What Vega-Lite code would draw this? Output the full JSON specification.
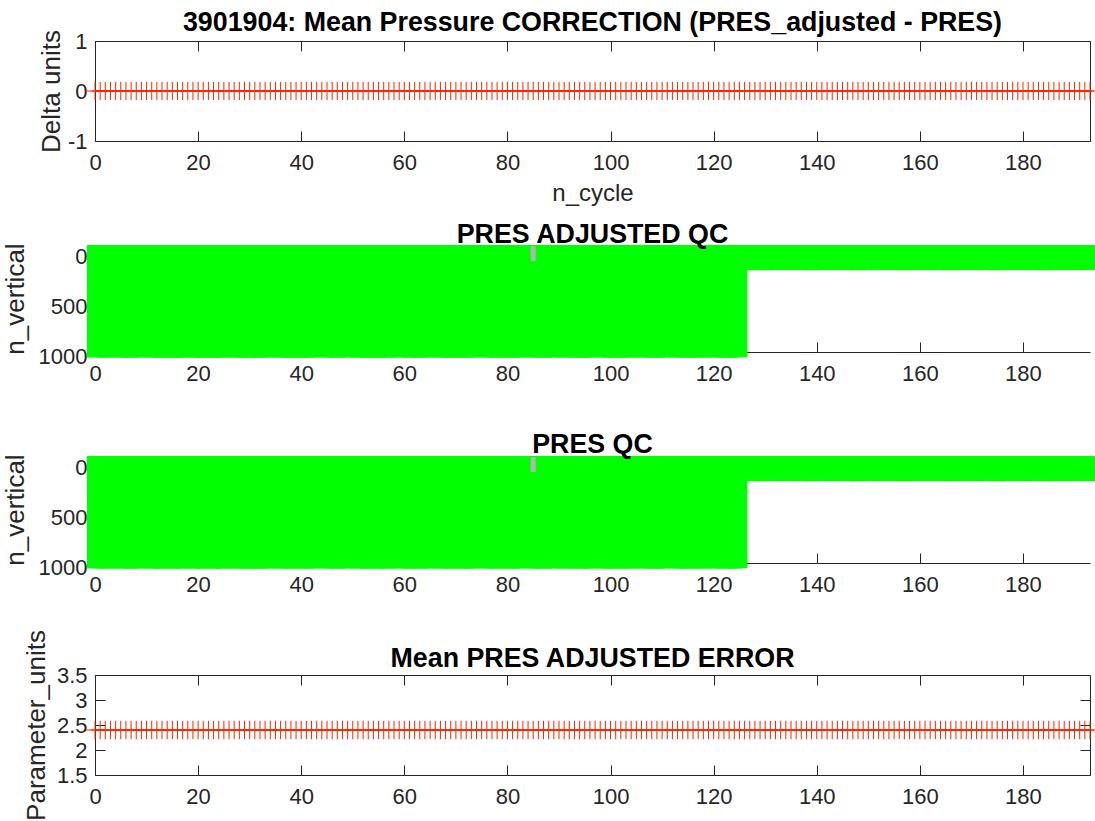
{
"$schema": "https://vega.github.io/schema/vega-lite/v6.json",
"background": "white",
"padding": {"left": 2, "top": 9, "right": 0, "bottom": 0},
"bounds": "flush",
"spacing": 104,
"datasets": {
"qc": [{"cycle": 85, "level_min": 1, "level_max": 90}],
"profiles": [
{"cycle":0,"correction":0,"adj_error":2.4,"n_levels":985},{"cycle":1,"correction":0,"adj_error":2.4,"n_levels":983},{"cycle":2,"correction":0,"adj_error":2.4,"n_levels":986},{"cycle":3,"correction":0,"adj_error":2.4,"n_levels":984},{"cycle":4,"correction":0,"adj_error":2.4,"n_levels":970},{"cycle":5,"correction":0,"adj_error":2.4,"n_levels":985},{"cycle":6,"correction":0,"adj_error":2.4,"n_levels":986},{"cycle":7,"correction":0,"adj_error":2.4,"n_levels":984},{"cycle":8,"correction":0,"adj_error":2.4,"n_levels":983},{"cycle":9,"correction":0,"adj_error":2.4,"n_levels":985},
{"cycle":10,"correction":0,"adj_error":2.4,"n_levels":975},{"cycle":11,"correction":0,"adj_error":2.4,"n_levels":986},{"cycle":12,"correction":0,"adj_error":2.4,"n_levels":984},{"cycle":13,"correction":0,"adj_error":2.4,"n_levels":985},{"cycle":14,"correction":0,"adj_error":2.4,"n_levels":983},{"cycle":15,"correction":0,"adj_error":2.4,"n_levels":986},{"cycle":16,"correction":0,"adj_error":2.4,"n_levels":984},{"cycle":17,"correction":0,"adj_error":2.4,"n_levels":985},{"cycle":18,"correction":0,"adj_error":2.4,"n_levels":966},{"cycle":19,"correction":0,"adj_error":2.4,"n_levels":984},
{"cycle":20,"correction":0,"adj_error":2.4,"n_levels":986},{"cycle":21,"correction":0,"adj_error":2.4,"n_levels":985},{"cycle":22,"correction":0,"adj_error":2.4,"n_levels":983},{"cycle":23,"correction":0,"adj_error":2.4,"n_levels":984},{"cycle":24,"correction":0,"adj_error":2.4,"n_levels":986},{"cycle":25,"correction":0,"adj_error":2.4,"n_levels":985},{"cycle":26,"correction":0,"adj_error":2.4,"n_levels":968},{"cycle":27,"correction":0,"adj_error":2.4,"n_levels":984},{"cycle":28,"correction":0,"adj_error":2.4,"n_levels":986},{"cycle":29,"correction":0,"adj_error":2.4,"n_levels":983},
{"cycle":30,"correction":0,"adj_error":2.4,"n_levels":985},{"cycle":31,"correction":0,"adj_error":2.4,"n_levels":984},{"cycle":32,"correction":0,"adj_error":2.4,"n_levels":986},{"cycle":33,"correction":0,"adj_error":2.4,"n_levels":983},{"cycle":34,"correction":0,"adj_error":2.4,"n_levels":985},{"cycle":35,"correction":0,"adj_error":2.4,"n_levels":970},{"cycle":36,"correction":0,"adj_error":2.4,"n_levels":984},{"cycle":37,"correction":0,"adj_error":2.4,"n_levels":986},{"cycle":38,"correction":0,"adj_error":2.4,"n_levels":985},{"cycle":39,"correction":0,"adj_error":2.4,"n_levels":983},
{"cycle":40,"correction":0,"adj_error":2.4,"n_levels":984},{"cycle":41,"correction":0,"adj_error":2.4,"n_levels":986},{"cycle":42,"correction":0,"adj_error":2.4,"n_levels":985},{"cycle":43,"correction":0,"adj_error":2.4,"n_levels":983},{"cycle":44,"correction":0,"adj_error":2.4,"n_levels":967},{"cycle":45,"correction":0,"adj_error":2.4,"n_levels":984},{"cycle":46,"correction":0,"adj_error":2.4,"n_levels":986},{"cycle":47,"correction":0,"adj_error":2.4,"n_levels":985},{"cycle":48,"correction":0,"adj_error":2.4,"n_levels":983},{"cycle":49,"correction":0,"adj_error":2.4,"n_levels":984},
{"cycle":50,"correction":0,"adj_error":2.4,"n_levels":972},{"cycle":51,"correction":0,"adj_error":2.4,"n_levels":985},{"cycle":52,"correction":0,"adj_error":2.4,"n_levels":986},{"cycle":53,"correction":0,"adj_error":2.4,"n_levels":984},{"cycle":54,"correction":0,"adj_error":2.4,"n_levels":983},{"cycle":55,"correction":0,"adj_error":2.4,"n_levels":985},{"cycle":56,"correction":0,"adj_error":2.4,"n_levels":986},{"cycle":57,"correction":0,"adj_error":2.4,"n_levels":984},{"cycle":58,"correction":0,"adj_error":2.4,"n_levels":968},{"cycle":59,"correction":0,"adj_error":2.4,"n_levels":985},
{"cycle":60,"correction":0,"adj_error":2.4,"n_levels":983},{"cycle":61,"correction":0,"adj_error":2.4,"n_levels":986},{"cycle":62,"correction":0,"adj_error":2.4,"n_levels":984},{"cycle":63,"correction":0,"adj_error":2.4,"n_levels":985},{"cycle":64,"correction":0,"adj_error":2.4,"n_levels":983},{"cycle":65,"correction":0,"adj_error":2.4,"n_levels":986},{"cycle":66,"correction":0,"adj_error":2.4,"n_levels":970},{"cycle":67,"correction":0,"adj_error":2.4,"n_levels":984},{"cycle":68,"correction":0,"adj_error":2.4,"n_levels":985},{"cycle":69,"correction":0,"adj_error":2.4,"n_levels":986},
{"cycle":70,"correction":0,"adj_error":2.4,"n_levels":983},{"cycle":71,"correction":0,"adj_error":2.4,"n_levels":984},{"cycle":72,"correction":0,"adj_error":2.4,"n_levels":986},{"cycle":73,"correction":0,"adj_error":2.4,"n_levels":985},{"cycle":74,"correction":0,"adj_error":2.4,"n_levels":983},{"cycle":75,"correction":0,"adj_error":2.4,"n_levels":969},{"cycle":76,"correction":0,"adj_error":2.4,"n_levels":984},{"cycle":77,"correction":0,"adj_error":2.4,"n_levels":986},{"cycle":78,"correction":0,"adj_error":2.4,"n_levels":985},{"cycle":79,"correction":0,"adj_error":2.4,"n_levels":983},
{"cycle":80,"correction":0,"adj_error":2.4,"n_levels":984},{"cycle":81,"correction":0,"adj_error":2.4,"n_levels":986},{"cycle":82,"correction":0,"adj_error":2.4,"n_levels":985},{"cycle":83,"correction":0,"adj_error":2.4,"n_levels":983},{"cycle":84,"correction":0,"adj_error":2.4,"n_levels":971},{"cycle":85,"correction":0,"adj_error":2.4,"n_levels":984},{"cycle":86,"correction":0,"adj_error":2.4,"n_levels":986},{"cycle":87,"correction":0,"adj_error":2.4,"n_levels":985},{"cycle":88,"correction":0,"adj_error":2.4,"n_levels":983},{"cycle":89,"correction":0,"adj_error":2.4,"n_levels":984},
{"cycle":90,"correction":0,"adj_error":2.4,"n_levels":967},{"cycle":91,"correction":0,"adj_error":2.4,"n_levels":986},{"cycle":92,"correction":0,"adj_error":2.4,"n_levels":985},{"cycle":93,"correction":0,"adj_error":2.4,"n_levels":983},{"cycle":94,"correction":0,"adj_error":2.4,"n_levels":984},{"cycle":95,"correction":0,"adj_error":2.4,"n_levels":986},{"cycle":96,"correction":0,"adj_error":2.4,"n_levels":985},{"cycle":97,"correction":0,"adj_error":2.4,"n_levels":968},{"cycle":98,"correction":0,"adj_error":2.4,"n_levels":983},{"cycle":99,"correction":0,"adj_error":2.4,"n_levels":984},
{"cycle":100,"correction":0,"adj_error":2.4,"n_levels":986},{"cycle":101,"correction":0,"adj_error":2.4,"n_levels":985},{"cycle":102,"correction":0,"adj_error":2.4,"n_levels":983},{"cycle":103,"correction":0,"adj_error":2.4,"n_levels":984},{"cycle":104,"correction":0,"adj_error":2.4,"n_levels":986},{"cycle":105,"correction":0,"adj_error":2.4,"n_levels":970},{"cycle":106,"correction":0,"adj_error":2.4,"n_levels":985},{"cycle":107,"correction":0,"adj_error":2.4,"n_levels":983},{"cycle":108,"correction":0,"adj_error":2.4,"n_levels":984},{"cycle":109,"correction":0,"adj_error":2.4,"n_levels":986},
{"cycle":110,"correction":0,"adj_error":2.4,"n_levels":985},{"cycle":111,"correction":0,"adj_error":2.4,"n_levels":983},{"cycle":112,"correction":0,"adj_error":2.4,"n_levels":969},{"cycle":113,"correction":0,"adj_error":2.4,"n_levels":984},{"cycle":114,"correction":0,"adj_error":2.4,"n_levels":986},{"cycle":115,"correction":0,"adj_error":2.4,"n_levels":985},{"cycle":116,"correction":0,"adj_error":2.4,"n_levels":983},{"cycle":117,"correction":0,"adj_error":2.4,"n_levels":984},{"cycle":118,"correction":0,"adj_error":2.4,"n_levels":986},{"cycle":119,"correction":0,"adj_error":2.4,"n_levels":972},
{"cycle":120,"correction":0,"adj_error":2.4,"n_levels":985},{"cycle":121,"correction":0,"adj_error":2.4,"n_levels":983},{"cycle":122,"correction":0,"adj_error":2.4,"n_levels":984},{"cycle":123,"correction":0,"adj_error":2.4,"n_levels":986},{"cycle":124,"correction":0,"adj_error":2.4,"n_levels":985},{"cycle":125,"correction":0,"adj_error":2.4,"n_levels":983},{"cycle":126,"correction":0,"adj_error":2.4,"n_levels":110},{"cycle":127,"correction":0,"adj_error":2.4,"n_levels":111},{"cycle":128,"correction":0,"adj_error":2.4,"n_levels":109},{"cycle":129,"correction":0,"adj_error":2.4,"n_levels":110},
{"cycle":130,"correction":0,"adj_error":2.4,"n_levels":112},{"cycle":131,"correction":0,"adj_error":2.4,"n_levels":110},{"cycle":132,"correction":0,"adj_error":2.4,"n_levels":109},{"cycle":133,"correction":0,"adj_error":2.4,"n_levels":111},{"cycle":134,"correction":0,"adj_error":2.4,"n_levels":110},{"cycle":135,"correction":0,"adj_error":2.4,"n_levels":110},{"cycle":136,"correction":0,"adj_error":2.4,"n_levels":111},{"cycle":137,"correction":0,"adj_error":2.4,"n_levels":109},{"cycle":138,"correction":0,"adj_error":2.4,"n_levels":110},{"cycle":139,"correction":0,"adj_error":2.4,"n_levels":112},
{"cycle":140,"correction":0,"adj_error":2.4,"n_levels":110},{"cycle":141,"correction":0,"adj_error":2.4,"n_levels":109},{"cycle":142,"correction":0,"adj_error":2.4,"n_levels":111},{"cycle":143,"correction":0,"adj_error":2.4,"n_levels":110},{"cycle":144,"correction":0,"adj_error":2.4,"n_levels":110},{"cycle":145,"correction":0,"adj_error":2.4,"n_levels":111},{"cycle":146,"correction":0,"adj_error":2.4,"n_levels":109},{"cycle":147,"correction":0,"adj_error":2.4,"n_levels":110},{"cycle":148,"correction":0,"adj_error":2.4,"n_levels":112},{"cycle":149,"correction":0,"adj_error":2.4,"n_levels":110},
{"cycle":150,"correction":0,"adj_error":2.4,"n_levels":109},{"cycle":151,"correction":0,"adj_error":2.4,"n_levels":111},{"cycle":152,"correction":0,"adj_error":2.4,"n_levels":110},{"cycle":153,"correction":0,"adj_error":2.4,"n_levels":110},{"cycle":154,"correction":0,"adj_error":2.4,"n_levels":111},{"cycle":155,"correction":0,"adj_error":2.4,"n_levels":109},{"cycle":156,"correction":0,"adj_error":2.4,"n_levels":110},{"cycle":157,"correction":0,"adj_error":2.4,"n_levels":112},{"cycle":158,"correction":0,"adj_error":2.4,"n_levels":110},{"cycle":159,"correction":0,"adj_error":2.4,"n_levels":109},
{"cycle":160,"correction":0,"adj_error":2.4,"n_levels":111},{"cycle":161,"correction":0,"adj_error":2.4,"n_levels":110},{"cycle":162,"correction":0,"adj_error":2.4,"n_levels":110},{"cycle":163,"correction":0,"adj_error":2.4,"n_levels":111},{"cycle":164,"correction":0,"adj_error":2.4,"n_levels":109},{"cycle":165,"correction":0,"adj_error":2.4,"n_levels":110},{"cycle":166,"correction":0,"adj_error":2.4,"n_levels":112},{"cycle":167,"correction":0,"adj_error":2.4,"n_levels":110},{"cycle":168,"correction":0,"adj_error":2.4,"n_levels":109},{"cycle":169,"correction":0,"adj_error":2.4,"n_levels":111},
{"cycle":170,"correction":0,"adj_error":2.4,"n_levels":110},{"cycle":171,"correction":0,"adj_error":2.4,"n_levels":110},{"cycle":172,"correction":0,"adj_error":2.4,"n_levels":111},{"cycle":173,"correction":0,"adj_error":2.4,"n_levels":109},{"cycle":174,"correction":0,"adj_error":2.4,"n_levels":110},{"cycle":175,"correction":0,"adj_error":2.4,"n_levels":112},{"cycle":176,"correction":0,"adj_error":2.4,"n_levels":110},{"cycle":177,"correction":0,"adj_error":2.4,"n_levels":109},{"cycle":178,"correction":0,"adj_error":2.4,"n_levels":111},{"cycle":179,"correction":0,"adj_error":2.4,"n_levels":110},
{"cycle":180,"correction":0,"adj_error":2.4,"n_levels":110},{"cycle":181,"correction":0,"adj_error":2.4,"n_levels":111},{"cycle":182,"correction":0,"adj_error":2.4,"n_levels":109},{"cycle":183,"correction":0,"adj_error":2.4,"n_levels":110},{"cycle":184,"correction":0,"adj_error":2.4,"n_levels":112},{"cycle":185,"correction":0,"adj_error":2.4,"n_levels":110},{"cycle":186,"correction":0,"adj_error":2.4,"n_levels":109},{"cycle":187,"correction":0,"adj_error":2.4,"n_levels":111},{"cycle":188,"correction":0,"adj_error":2.4,"n_levels":110},{"cycle":189,"correction":0,"adj_error":2.4,"n_levels":110},
{"cycle":190,"correction":0,"adj_error":2.4,"n_levels":111},{"cycle":191,"correction":0,"adj_error":2.4,"n_levels":109},{"cycle":192,"correction":0,"adj_error":2.4,"n_levels":110},{"cycle":193,"correction":0,"adj_error":2.4,"n_levels":110}
]
},
"vconcat": [
{
"width": 995, "height": 100,
"title": {"text": "3901904: Mean Pressure CORRECTION (PRES_adjusted - PRES)", "offset": -28, "baseline": "alphabetic"},
"data": {"name": "profiles"},
"layer": [
{"mark": {"type": "line", "color": "#ff2400", "strokeWidth": 1.5},
 "encoding": {
  "x": {"field": "cycle", "type": "quantitative", "scale": {"domain": [0, 193], "nice": false, "zero": false},
        "axis": {"values": [0,20,40,60,80,100,120,140,160,180], "title": "n_cycle", "titleY": 40, "titleBaseline": "top", "titleFontSize": 24, "labelFlush": false, "labelOverlap": false}},
  "y": {"field": "correction", "type": "quantitative", "scale": {"domain": [-1, 1], "nice": false, "zero": false},
        "axis": {"values": [-1, 0, 1], "labelExpr": "'' + datum.value", "title": "Delta units", "titleX": -44, "titleBaseline": "middle", "labelFlush": false, "labelOverlap": false}}
 }},
{"mark": {"type": "point", "shape": "M0,-1L0,1M-1,0L1,0", "filled": false, "color": "#ff2400", "strokeWidth": 1, "size": 330, "opacity": 1},
 "encoding": {
  "x": {"field": "cycle", "type": "quantitative", "axis": {"orient": "top", "values": [0,20,40,60,80,100,120,140,160,180], "labels": false, "title": null}},
  "y": {"field": "correction", "type": "quantitative", "axis": {"orient": "right", "values": [-1, 0, 1], "labels": false, "title": null}}
 }}
],
"resolve": {"axis": {"x": "independent", "y": "independent"}}
},
{
"width": 995, "height": 107,
"title": {"text": "PRES ADJUSTED QC", "offset": -27, "baseline": "alphabetic"},
"layer": [
{"data": {"name": "profiles"},
 "mark": {"type": "rect", "color": "#00ff00", "xOffset": -8, "x2Offset": 8, "yOffset": 7, "y2Offset": -7},
 "encoding": {
  "x": {"field": "cycle", "type": "quantitative", "scale": {"domain": [0, 193], "nice": false, "zero": false},
        "axis": {"values": [0,20,40,60,80,100,120,140,160,180], "title": null, "labelFlush": false, "labelOverlap": false}},
  "x2": {"field": "cycle"},
  "y": {"field": "n_levels", "type": "quantitative", "scale": {"domain": [-70, 1000], "reverse": true, "nice": false, "zero": false},
        "axis": {"values": [0, 500, 1000], "labelExpr": "'' + datum.value", "title": "n_vertical", "titleX": -80, "titleBaseline": "middle", "domain": false, "tickOpacity": 0, "labelOffset": 4, "labelFlush": false, "labelOverlap": false}},
  "y2": {"datum": 1}
 }},
{"data": {"name": "qc"},
 "mark": {"type": "rect", "color": "#b4b4b4", "xOffset": -2.5, "x2Offset": 2.5, "y2Offset": -6},
 "encoding": {
  "x": {"field": "cycle", "type": "quantitative"},
  "x2": {"field": "cycle"},
  "y": {"field": "level_max", "type": "quantitative"},
  "y2": {"field": "level_min"}
 }}
]
},
{
"bounds": "flush",
"spacing": 112,
"vconcat": [
{
"width": 995, "height": 107,
"title": {"text": "PRES QC", "offset": -26, "baseline": "alphabetic"},
"layer": [
{"data": {"name": "profiles"},
 "mark": {"type": "rect", "color": "#00ff00", "xOffset": -8, "x2Offset": 8, "yOffset": 7, "y2Offset": -7},
 "encoding": {
  "x": {"field": "cycle", "type": "quantitative", "scale": {"domain": [0, 193], "nice": false, "zero": false},
        "axis": {"values": [0,20,40,60,80,100,120,140,160,180], "title": null, "labelFlush": false, "labelOverlap": false}},
  "x2": {"field": "cycle"},
  "y": {"field": "n_levels", "type": "quantitative", "scale": {"domain": [-70, 1000], "reverse": true, "nice": false, "zero": false},
        "axis": {"values": [0, 500, 1000], "labelExpr": "'' + datum.value", "title": "n_vertical", "titleX": -80, "titleBaseline": "middle", "domain": false, "tickOpacity": 0, "labelOffset": 4, "labelFlush": false, "labelOverlap": false}},
  "y2": {"datum": 1}
 }},
{"data": {"name": "qc"},
 "mark": {"type": "rect", "color": "#b4b4b4", "xOffset": -2.5, "x2Offset": 2.5, "y2Offset": -6},
 "encoding": {
  "x": {"field": "cycle", "type": "quantitative"},
  "x2": {"field": "cycle"},
  "y": {"field": "level_max", "type": "quantitative"},
  "y2": {"field": "level_min"}
 }}
]
},
{
"width": 995, "height": 100,
"title": {"text": "Mean PRES ADJUSTED ERROR", "offset": -64, "baseline": "alphabetic"},
"data": {"name": "profiles"},
"layer": [
{"mark": {"type": "line", "color": "#ff2400", "strokeWidth": 1.5},
 "encoding": {
  "x": {"field": "cycle", "type": "quantitative", "scale": {"domain": [0, 193], "nice": false, "zero": false},
        "axis": {"values": [0,20,40,60,80,100,120,140,160,180], "title": null, "labelFlush": false, "labelOverlap": false}},
  "y": {"field": "adj_error", "type": "quantitative", "scale": {"domain": [1.5, 3.5], "nice": false, "zero": false},
        "axis": {"values": [1.5, 2, 2.5, 3, 3.5], "labelExpr": "'' + datum.value", "title": "Parameter_units", "titleX": -59, "titleBaseline": "middle", "labelFlush": false, "labelOverlap": false}}
 }},
{"mark": {"type": "point", "shape": "M0,-1L0,1M-1,0L1,0", "filled": false, "color": "#ff2400", "strokeWidth": 1, "size": 340, "opacity": 1},
 "encoding": {
  "x": {"field": "cycle", "type": "quantitative", "axis": {"orient": "top", "values": [0,20,40,60,80,100,120,140,160,180], "labels": false, "title": null}},
  "y": {"field": "adj_error", "type": "quantitative", "axis": {"orient": "right", "values": [1.5, 2, 2.5, 3, 3.5], "labels": false, "title": null}}
 }}
],
"resolve": {"axis": {"x": "independent", "y": "independent"}}
}
]
}
],
"config": {
"font": "Liberation Sans",
"view": {"stroke": null},
"title": {"font": "Liberation Sans", "fontSize": 26.8, "fontWeight": "bold", "color": "#000000", "anchor": "middle"},
"axis": {"labelFont": "Liberation Sans", "labelFontSize": 22, "labelColor": "#262626", "titleFont": "Liberation Sans", "titleFontSize": 26, "titleFontWeight": "normal", "titleColor": "#262626", "domainColor": "#262626", "tickColor": "#262626", "domainWidth": 1, "tickWidth": 1, "tickSize": -10, "grid": false},
"axisX": {"labelPadding": 21},
"axisY": {"labelPadding": 18}
}
}
